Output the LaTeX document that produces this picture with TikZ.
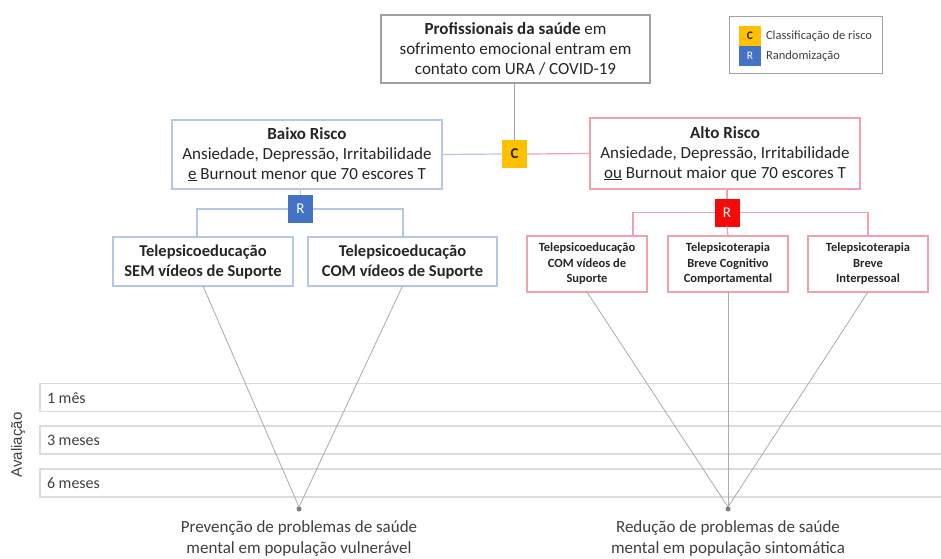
\documentclass[tikz,border=0pt]{standalone}
\usepackage{fontspec}
\setmainfont{Carlito}
\newfontfamily\arialfont{Liberation Sans}
\definecolor{txt}{HTML}{262626}
\definecolor{softtxt}{HTML}{404040}
\definecolor{gborder}{HTML}{A0A0A0}
\definecolor{bborder}{HTML}{B4C7E7}
\definecolor{rborder}{HTML}{F2A0AA}
\definecolor{cyel}{HTML}{FFC000}
\definecolor{rblue}{HTML}{4472C4}
\definecolor{rred}{HTML}{F50A0A}
\definecolor{stripc}{HTML}{DCDCDC}
\definecolor{diagc}{HTML}{ABABAB}
\begin{document}
\begin{tikzpicture}[x=1pt,y=-1pt,
  every node/.style={text=txt, inner sep=0pt, outer sep=0pt},
  bigbox/.style={draw, line width=1.3pt, align=center, fill=white,
    font=\fontsize{17}{20}\selectfont},
  midbox/.style={draw, line width=1.3pt, align=center, fill=white,
    font=\fontsize{16.5}{20}\selectfont\bfseries, minimum height=49},
  smallbox/.style={draw=rborder, line width=1.3pt, align=center, fill=white,
    font=\fontsize{12.5}{15.5}\selectfont\bfseries, minimum width=120, minimum height=56},
  sq/.style={minimum width=25, minimum height=28, font=\fontsize{15}{15}\selectfont},
  legsq/.style={minimum width=22, minimum height=20, font=\fontsize{11.5}{11.5}\selectfont},
  legtxt/.style={anchor=west, text=softtxt, font=\fontsize{12.5}{14}\selectfont},
  stripbox/.style={draw=stripc, line width=1.8pt, minimum width=906, minimum height=28},
  striptxt/.style={anchor=west, text=softtxt, font=\fontsize{16}{18}\selectfont},
  gline/.style={draw=gborder, line width=1.2pt},
  bline/.style={draw=bborder, line width=1.2pt},
  rline/.style={draw=rborder, line width=1.2pt},
  diagline/.style={draw=diagc, line width=0.8pt},
  dotnode/.style={circle, fill=gray, minimum size=5},
  outtxt/.style={align=center, text=softtxt, font=\fontsize{17}{21}\selectfont}
]
\useasboundingbox[fill=white] (0,0) rectangle (941,558);

% evaluation strips
\node[stripbox] (s1) at (493,397.5) {};
\node[stripbox] (s2) at (493,440) {};
\node[stripbox] (s3) at (493,483) {};
\node[striptxt] (l1) at (47,398) {1 mês};
\node[striptxt] (l2) at (47,440) {3 meses};
\node[striptxt] (l3) at (47,483) {6 meses};
\node[rotate=90, text=softtxt, font=\arialfont\fontsize{15}{15}\selectfont] (aval) at (18,445) {Avaliação};

% top box
\node[bigbox, draw=gborder, minimum width=269, minimum height=68] (top) at (515.5,49)
  {\textbf{Profissionais da saúde} em\\sofrimento emocional entram em\\contato com URA / COVID-19};

% legend
\node[draw=gborder, line width=1pt, minimum width=153, minimum height=57] (leg) at (805.5,44.5) {};
\node[legsq, fill=cyel] (lc) at (750,36) {\textbf{C}};
\node[legsq, fill=rblue, text=white] (lr) at (750,56) {R};
\node[legtxt] (lct) at (766,36) {Classificação de risco};
\node[legtxt] (lrt) at (766,56) {Randomização};

% classification
\node[sq, fill=cyel] (C) at (514.5,154) {\textbf{C}};
\node[bigbox, draw=bborder, minimum width=270, minimum height=69] (baixo) at (307,154.5)
  {\textbf{Baixo Risco}\\Ansiedade, Depressão, Irritabilidade\\\underline{e} Burnout menor que 70 escores T};
\node[bigbox, draw=rborder, minimum width=270, minimum height=71] (alto) at (725,153.5)
  {\textbf{Alto Risco}\\Ansiedade, Depressão, Irritabilidade\\\underline{ou} Burnout maior que 70 escores T};

\draw[gline] (C.north |- top.south) -- (C.north);
\draw[bline] (baixo.east) -- (C.west);
\draw[rline] (C.east) -- (alto.west);

% randomization low risk
\node[sq, fill=rblue, text=white] (Rb) at (300.5,209) {R};
\draw[bline] (Rb.north |- baixo.south) -- (Rb.north);
\node[midbox, draw=bborder, minimum width=180] (b1) at (203,261.5)
  {Telepsicoeducação\\SEM vídeos de Suporte};
\node[midbox, draw=bborder, minimum width=189] (b2) at (402.5,261.5)
  {Telepsicoeducação\\COM vídeos de Suporte};
\coordinate (b1top) at (197,237);
\coordinate (b2top) at (403,237);
\draw[bline] (Rb.west) -| (b1top);
\draw[bline] (Rb.east) -| (b2top);

% randomization high risk
\node[sq, fill=rred, text=white] (Rr) at (727,212.5) {R};
\draw[rline] (Rr.north |- alto.south) -- (Rr.north);
\node[smallbox] (b3) at (587,264) {Telepsicoeducação\\COM vídeos de\\Suporte};
\node[smallbox] (b4) at (728,264) {Telepsicoterapia\\Breve Cognitivo\\Comportamental};
\node[smallbox] (b5) at (868,264) {Telepsicoterapia\\Breve\\Interpessoal};
\coordinate (b3top) at (633,236);
\draw[rline] (Rr.west) -| (b3top);
\draw[rline] (Rr.east) -| (b5.north);
\draw[rline] (Rr.south) -- (b4.north);

% outcomes
\coordinate (pL) at (299,507);
\coordinate (pR) at (728,507);
\draw[diagline] (b1.south) -- (pL);
\draw[diagline] (b2.south) -- (pL);
\draw[diagline] (b3.south) -- (pR);
\draw[diagline] (b4.south) -- (pR);
\draw[diagline] (b5.south) -- (pR);
\node[dotnode, minimum size=5] (dL) at (299,509) {};
\node[dotnode, minimum size=5] (dR) at (728,509) {};
\node[outtxt] (oL) at (299,539) {Prevenção de problemas de saúde\\mental em população vulnerável};
\node[outtxt] (oR) at (728,539) {Redução de problemas de saúde\\mental em população sintomática};
\end{tikzpicture}
\end{document}
